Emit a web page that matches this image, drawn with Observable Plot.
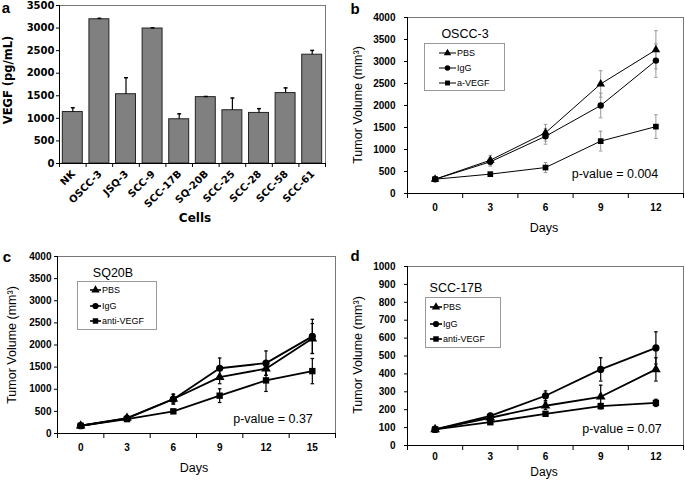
<!DOCTYPE html>
<html><head><meta charset="utf-8">
<script src="https://cdn.jsdelivr.net/npm/d3@7"></script>
<script src="https://cdn.jsdelivr.net/npm/@observablehq/plot@0.6"></script>
<style>
body{margin:0;background:#fff}
#fig{position:relative;width:685px;height:482px;overflow:hidden;background:#fff;font-family:"Liberation Sans",Arial,sans-serif;color:#000}
.abs{position:absolute}
.t{position:absolute;white-space:nowrap;line-height:1}
.rt{position:absolute;white-space:nowrap;line-height:1;transform-origin:100% 50%}
.leg{position:absolute;border:1px solid #999;background:#fff;box-sizing:border-box}
</style></head>
<body><div id="fig"></div>
<script>
// ---------- Data ----------
const cells = ["NK","OSCC-3","JSQ-3","SCC-9","SCC-17B","SQ-20B","SCC-25","SCC-28","SCC-58","SCC-61"];
const vegf = [1140,3195,1535,2990,980,1470,1180,1120,1560,2410];
const vegfErr = [95,20,365,15,120,15,270,95,115,95];

const daysB = [0,3,6,9,12];
const bPBS = [325,757,1380,2490,3265];
const bPBSErr = [0,110,190,300,435];
const bIgG = [325,720,1300,2000,3020];
const bIgGErr = [0,100,180,280,380];
const bAnti = [325,440,590,1190,1520];
const bAntiErr = [0,0,115,225,270];

const daysC = [0,3,6,9,12,15];
const cPBS = [175,350,780,1275,1465,2145];
const cPBSErr = [0,30,110,150,150,340];
const cIgG = [175,340,775,1475,1590,2195];
const cIgGErr = [0,30,110,230,275,385];
const cAnti = [175,325,500,855,1200,1410];
const cAntiErr = [0,0,45,155,250,285];

const daysD = [0,3,6,9,12];
const dPBS = [90,155,222,272,425];
const dPBSErr = [5,10,20,65,65];
const dIgG = [90,165,278,425,545];
const dIgGErr = [5,10,27,65,90];
const dAnti = [90,130,177,220,238];
const dAntiErr = [5,8,10,15,20];

const groupsB = ["PBS","IgG","a-VEGF"];
const groupsCD = ["PBS","IgG","anti-VEGF"];
const symbols = ["triangle","circle","square"];

// ---------- helpers ----------
const fig = document.getElementById("fig");
const cap = {draw(ctx, size){const w = Math.sqrt(size)/2; ctx.moveTo(-w,0); ctx.lineTo(w,0);}};

function place(el, left, top){
  const d = document.createElement("div"); d.className = "abs";
  d.style.left = left+"px"; d.style.top = top+"px"; d.append(el); fig.append(d);
}
function txt(s, x, y, o={}){
  const d = document.createElement("div"); d.className = "t"; d.textContent = s;
  d.style.left = x+"px"; d.style.top = y+"px";
  d.style.fontSize = (o.size||12)+"px"; d.style.fontWeight = o.weight||"normal";
  d.style.fontFamily = o.family||'"Liberation Sans", Arial, sans-serif';
  const ax = o.anchor==="start" ? "0" : "-50%";
  d.style.transform = `translate(${ax},-50%)` + (o.rotate ? ` rotate(${o.rotate}deg)` : "");
  fig.append(d);
}
function rows(days, series){
  const out = [];
  series.forEach(([g, vals, errs]) => vals.forEach((v,i) => out.push({day: days[i], g, v, e: errs[i]})));
  return out;
}
function legend(box, rowsY, lineX, textX, names, style){
  const b = document.createElement("div"); b.className = "leg";
  b.style.left = box[0]+"px"; b.style.top = box[1]+"px";
  b.style.width = (box[2]-box[0])+"px"; b.style.height = (box[3]-box[1])+"px";
  fig.append(b);
  names.forEach((n,i) => {
    const ns = "http://www.w3.org/2000/svg";
    const svg = document.createElementNS(ns,"svg");
    const w = lineX[1]-lineX[0];
    svg.setAttribute("width", w); svg.setAttribute("height", 10);
    svg.style.position="absolute"; svg.style.left = lineX[0]+"px"; svg.style.top = (rowsY[i]-5)+"px";
    const ln = document.createElementNS(ns,"line");
    ln.setAttribute("x1",0); ln.setAttribute("x2",w); ln.setAttribute("y1",5); ln.setAttribute("y2",5);
    ln.setAttribute("stroke","#000"); ln.setAttribute("stroke-width",style.lw);
    svg.append(ln);
    const p = document.createElementNS(ns,"path");
    p.setAttribute("d", d3.symbol(d3["symbol"+symbols[i][0].toUpperCase()+symbols[i].slice(1)], style.ms)());
    p.setAttribute("transform", `translate(${w/2},5)`); p.setAttribute("fill","#000");
    svg.append(p);
    fig.append(svg);
    txt(n, textX, rowsY[i], {size:9, anchor:"start"});
  });
}

// ---------- Panel a ----------
const aData = cells.map((c,i) => ({i, c, v: vegf[i], e: vegfErr[i]}));
const plotA = Plot.plot({
  width: 340, height: 240, marginLeft: 59, marginRight: 15, marginTop: 5, marginBottom: 77,
  x: {domain: [-0.5, 9.5]}, y: {domain: [0, 3500]},
  style: {fontFamily: '"DejaVu Sans", sans-serif', fontSize: "10px", fontWeight: "bold", color: "#000", background: "none", overflow: "visible"},
  marks: [
    Plot.frame({stroke: "#777"}),
    Plot.rectY(aData, {x1: d => d.i - 0.375, x2: d => d.i + 0.375, y1: 0, y2: "v", fill: "#808080", stroke: "#222", strokeWidth: 1}),
    Plot.ruleX(aData, {x: "i", y1: "v", y2: d => d.v + d.e, stroke: "#000", strokeWidth: 1.2}),
    Plot.dot(aData, {x: "i", y: d => d.v + d.e, symbol: cap, r: 2.2, stroke: "#000", strokeWidth: 1.5}),
    Plot.axisY({ticks: d3.range(0, 3501, 500), tickFormat: d3.format("d"), tickSize: 3, tickPadding: 2, label: null}),
    Plot.axisX({ticks: d3.range(11).map(i => i - 0.5), tickFormat: () => "", tickSize: 4, label: null}),
    Plot.ruleX([-0.5], {stroke: "#000"}),
    Plot.ruleY([0], {stroke: "#000"})
  ]
});
place(plotA, 0, 0);
// rotated category labels in an SVG overlay, positioned through the plot's own x and y scales
const xa = plotA.scale("x"), ya = plotA.scale("y");
const ov = d3.create("svg").attr("width", 340).attr("height", 240)
  .style("position", "absolute").style("left", "0px").style("top", "0px").style("overflow", "visible");
ov.selectAll("g").data(aData).join("g")
  .attr("transform", d => `translate(${xa.apply(d.i) + 1},${ya.apply(0) + 9}) rotate(-45)`)
  .append("text")
  .attr("text-anchor", "end").attr("dy", "0.35em")
  .attr("font-family", "DejaVu Sans, sans-serif").attr("font-weight", "bold").attr("font-size", 10)
  .text(d => d.c);
fig.append(ov.node());
txt("VEGF (pg/mL)", 9, 80, {size: 11.5, weight: "bold", family: '"DejaVu Sans", sans-serif', rotate: -90});
txt("Cells", 195, 218, {size: 12, weight: "bold", family: '"DejaVu Sans", sans-serif'});
txt("a", 6, 7, {size: 15, weight: "bold"});

// ---------- line panels ----------
function linePanel({data, days, groups, width, height, mt, mb, ml, mr, ymax, ystep, lw, ew, ecol, r, tickPad, xPad}){
  const step = days[1]-days[0];
  const x0 = days[0]-step/2, x1 = days[days.length-1]+step/2;
  const withErr = data.filter(d => d.e > 0);
  return Plot.plot({
    width, height, marginTop: mt, marginBottom: mb, marginLeft: ml, marginRight: mr,
    x: {domain: [x0, x1]}, y: {domain: [0, ymax]},
    symbol: {domain: groups, range: symbols},
    style: {fontFamily: '"Liberation Sans", Arial, sans-serif', fontSize: "10px", fontWeight: "bold", color: "#000", background: "none", overflow: "visible"},
    marks: [
      Plot.frame({stroke: "#777"}),
      Plot.ruleX(withErr, {x: "day", y1: d => d.v - d.e, y2: d => d.v + d.e, stroke: ecol, strokeWidth: ew}),
      Plot.dot(withErr, {x: "day", y: d => d.v + d.e, symbol: cap, r: 2, stroke: ecol, strokeWidth: ew}),
      Plot.dot(withErr, {x: "day", y: d => d.v - d.e, symbol: cap, r: 2, stroke: ecol, strokeWidth: ew}),
      Plot.line(data, {x: "day", y: "v", z: "g", stroke: "#000", strokeWidth: lw}),
      Plot.dot(data, {x: "day", y: "v", symbol: "g", fill: "#000", r}),
      Plot.axisY({ticks: d3.range(0, ymax + 1, ystep), tickFormat: d3.format("d"), tickSize: 3, tickPadding: tickPad, label: null}),
      Plot.axisX({ticks: days, tickFormat: d3.format("d"), tickSize: 0, tickPadding: xPad, label: null}),
      Plot.axisX({ticks: d3.range(days.length + 1).map(i => x0 + i*step), tickFormat: () => "", tickSize: 5, label: null}),
      Plot.ruleX([x0], {stroke: "#000"}),
      Plot.ruleY([0], {stroke: "#000"})
    ]
  });
}

// Panel b
const dataB = rows(daysB, [[groupsB[0], bPBS, bPBSErr], [groupsB[1], bIgG, bIgGErr], [groupsB[2], bAnti, bAntiErr]]);
place(linePanel({data: dataB, days: daysB, groups: groupsB, width: 345, height: 240, mt: 17, mb: 47, ml: 67, mr: 2,
  ymax: 4000, ystep: 500, lw: 1, ew: 1, ecol: "#999", r: 3.2, tickPad: 9, xPad: 10}), 340, 0);
txt("b", 355, 8, {size: 15, weight: "bold"});
txt("Tumor Volume (mm³)", 358, 105, {size: 12.5, rotate: -90});
txt("Days", 544, 228, {size: 12.5});
txt("OSCC-3", 465, 34, {size: 12.5});
legend([424, 43, 505, 91], [53, 68, 83], [439, 456], 457, groupsB, {lw: 1, ms: 24});
txt("p-value = 0.004", 615, 174, {size: 12.5});

// Panel c
const dataC = rows(daysC, [[groupsCD[0], cPBS, cPBSErr], [groupsCD[1], cIgG, cIgGErr], [groupsCD[2], cAnti, cAntiErr]]);
place(linePanel({data: dataC, days: daysC, groups: groupsCD, width: 340, height: 242, mt: 16, mb: 49, ml: 57, mr: 5,
  ymax: 4000, ystep: 500, lw: 1.8, ew: 1.2, ecol: "#000", r: 3.6, tickPad: 3, xPad: 10}), 0, 240);
txt("c", 7, 256, {size: 15, weight: "bold"});
txt("Tumor Volume (mm³)", 12, 345, {size: 12.5, rotate: -90});
txt("Days", 194, 468, {size: 12.5});
txt("SQ20B", 113, 273, {size: 12.5});
legend([77, 281, 157, 330], [290, 306, 321], [90, 101], 102, groupsCD, {lw: 1.6, ms: 30});
txt("p-value = 0.37", 273, 419, {size: 12.5});

// Panel d
const dataD = rows(daysD, [[groupsCD[0], dPBS, dPBSErr], [groupsCD[1], dIgG, dIgGErr], [groupsCD[2], dAnti, dAntiErr]]);
place(linePanel({data: dataD, days: daysD, groups: groupsCD, width: 345, height: 242, mt: 26, mb: 37, ml: 67, mr: 2,
  ymax: 1000, ystep: 100, lw: 1.8, ew: 1.2, ecol: "#000", r: 3.6, tickPad: 9, xPad: 7}), 340, 240);
txt("d", 355, 255, {size: 15, weight: "bold"});
txt("Tumor Volume (mm³)", 358, 355, {size: 12.5, rotate: -90});
txt("Days", 544, 472, {size: 12});
txt("SCC-17B", 456, 288, {size: 12.5});
legend([425, 297, 501, 348], [307, 324, 339], [430, 442], 443, groupsCD, {lw: 1.6, ms: 30});
txt("p-value = 0.07", 622, 429, {size: 12.5});
</script>
</body></html>
